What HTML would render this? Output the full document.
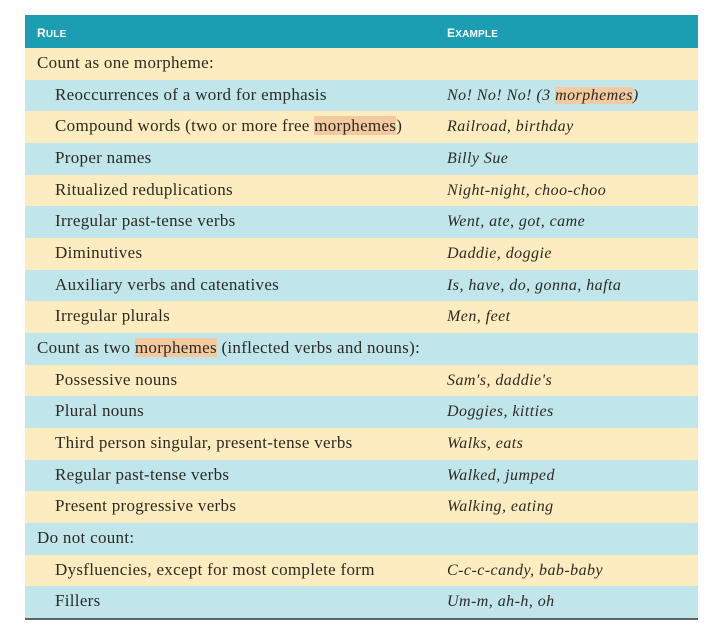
<!DOCTYPE html>
<html><head><style>
body{margin:0;background:#fff;width:720px;height:635px;overflow:hidden}
.t{position:absolute;left:25px;top:15px;width:673px;font-family:"Liberation Serif",serif;font-size:17px;letter-spacing:0.3px;color:#2d2a22}
.h{height:33px;background:#1b9db2;color:#fff;font-family:"Liberation Sans",sans-serif;font-weight:bold;font-size:12px;position:relative;letter-spacing:0.2px}
.h span{position:absolute;top:11px}
.r{height:31.67px;position:relative}
.r span{position:absolute;top:5px;white-space:nowrap}
.y{background:#fcecc0}.b{background:#c0e6eb}
.a{left:12px}.i{left:30px}.e{left:422px;font-style:italic;font-size:16px;letter-spacing:0.45px;top:7px!important}
.m{background:#f3c9a0}
.bot{height:2px;background:#5a6468}
</style></head><body>
<div class="t">
<div class="h"><span style="left:12px">R<small>ULE</small></span><span style="left:422px">E<small>XAMPLE</small></span></div>
<div class="r y"><span class="a">Count as one morpheme:</span></div>
<div class="r b"><span class="i">Reoccurrences of a word for emphasis</span><span class="e">No! No! No! (3 <span class="m" style="position:static">morphemes</span>)</span></div>
<div class="r y"><span class="i">Compound words (two or more free <span class="m" style="position:static">morphemes</span>)</span><span class="e">Railroad, birthday</span></div>
<div class="r b"><span class="i">Proper names</span><span class="e">Billy Sue</span></div>
<div class="r y"><span class="i">Ritualized reduplications</span><span class="e">Night-night, choo-choo</span></div>
<div class="r b"><span class="i">Irregular past-tense verbs</span><span class="e">Went, ate, got, came</span></div>
<div class="r y"><span class="i">Diminutives</span><span class="e">Daddie, doggie</span></div>
<div class="r b"><span class="i">Auxiliary verbs and catenatives</span><span class="e">Is, have, do, gonna, hafta</span></div>
<div class="r y"><span class="i">Irregular plurals</span><span class="e">Men, feet</span></div>
<div class="r b"><span class="a">Count as two <span class="m" style="position:static">morphemes</span> (inflected verbs and nouns):</span></div>
<div class="r y"><span class="i">Possessive nouns</span><span class="e">Sam's, daddie's</span></div>
<div class="r b"><span class="i">Plural nouns</span><span class="e">Doggies, kitties</span></div>
<div class="r y"><span class="i">Third person singular, present-tense verbs</span><span class="e">Walks, eats</span></div>
<div class="r b"><span class="i">Regular past-tense verbs</span><span class="e">Walked, jumped</span></div>
<div class="r y"><span class="i">Present progressive verbs</span><span class="e">Walking, eating</span></div>
<div class="r b"><span class="a">Do not count:</span></div>
<div class="r y"><span class="i">Dysfluencies, except for most complete form</span><span class="e">C-c-c-candy, bab-baby</span></div>
<div class="r b"><span class="i">Fillers</span><span class="e">Um-m, ah-h, oh</span></div>
<div class="bot"></div>
</div>
</body></html>
